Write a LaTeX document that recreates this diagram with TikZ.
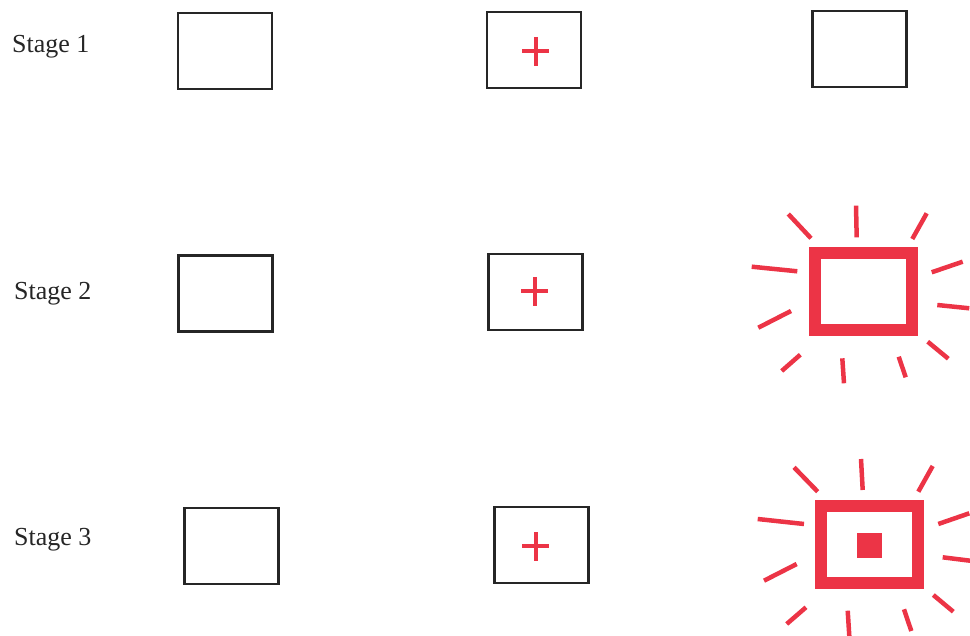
\documentclass[tikz,border=0pt]{standalone}
\usepackage{fontspec}
\setmainfont{Liberation Serif}
\definecolor{hotred}{RGB}{236,52,70}
\begin{document}
\begin{tikzpicture}[x=1pt,y=-1pt,
  plainbox/.style={draw=black!85,line width=2.2pt,minimum width=94pt,minimum height=76pt,inner sep=0pt},
  plussign/.style={draw=hotred,line width=4pt},
  ray/.style={draw=hotred,line width=4.5pt},
  glowbox/.style={draw=hotred,line width=12pt},
  stagelabel/.style={anchor=base west,font=\fontsize{26}{30}\selectfont,inner sep=0pt,text=black!85}]
\useasboundingbox (0,0) rectangle (970,636);
% labels
\node[stagelabel] (l1) at (12,53) {Stage 1};
\node[stagelabel] (l2) at (14,300) {Stage 2};
\node[stagelabel] (l3) at (14,545) {Stage 3};
% plain boxes
\node[plainbox] (a1) at (225,51) {};
\node[plainbox] (b1) at (534,50) {};
\node[plainbox] (c1) at (859.5,49) {};
\node[plainbox] (a2) at (225.5,293.5) {};
\node[plainbox] (b2) at (535.5,292) {};
\node[plainbox] (a3) at (231.5,546) {};
\node[plainbox] (b3) at (541.5,545) {};
% plus signs
\draw[plussign] (522,51) -- (549,51) (535.5,37) -- (535.5,66);
\draw[plussign] (521,291) -- (548,291) (534.5,277) -- (534.5,306);
\draw[plussign] (522,546) -- (549,546) (535.5,532) -- (535.5,561);
% stage 2 glowing box
\draw[glowbox] (815,253) rectangle (911.7,330);
\draw[ray] (788.3,214) -- (811,238.3);
\draw[ray] (856,205.7) -- (856.7,237.3);
\draw[ray] (926.7,213.3) -- (912.3,239);
\draw[ray] (751.7,266.7) -- (797.3,271.3);
\draw[ray] (931.7,272.3) -- (962.7,261.7);
\draw[ray] (758.3,327.7) -- (791,311);
\draw[ray] (937.3,305) -- (969.3,308.3);
\draw[ray] (781.7,371) -- (800.3,354.7);
\draw[ray] (842.3,358.3) -- (844,383.3);
\draw[ray] (898.7,356.7) -- (905.7,377.3);
\draw[ray] (927.7,341.7) -- (948.3,358.7);
% stage 3 glowing box
\draw[glowbox] (821,505.5) rectangle (917.5,582.5);
\fill[hotred] (857,533) rectangle (882,558);
\draw[ray] (794,467.3) -- (817.7,491.7);
\draw[ray] (861,459) -- (862.7,490);
\draw[ray] (932.7,466) -- (918.3,491.7);
\draw[ray] (757.7,519) -- (804,524);
\draw[ray] (938.3,524) -- (969.3,513.3);
\draw[ray] (764,580.7) -- (796.7,564);
\draw[ray] (942.7,557.3) -- (970,560.7);
\draw[ray] (786.7,624) -- (806,607.3);
\draw[ray] (847.7,610.7) -- (849.3,636);
\draw[ray] (904,609.3) -- (911.3,631);
\draw[ray] (933.3,595) -- (953.3,611.7);
\end{tikzpicture}
\end{document}
